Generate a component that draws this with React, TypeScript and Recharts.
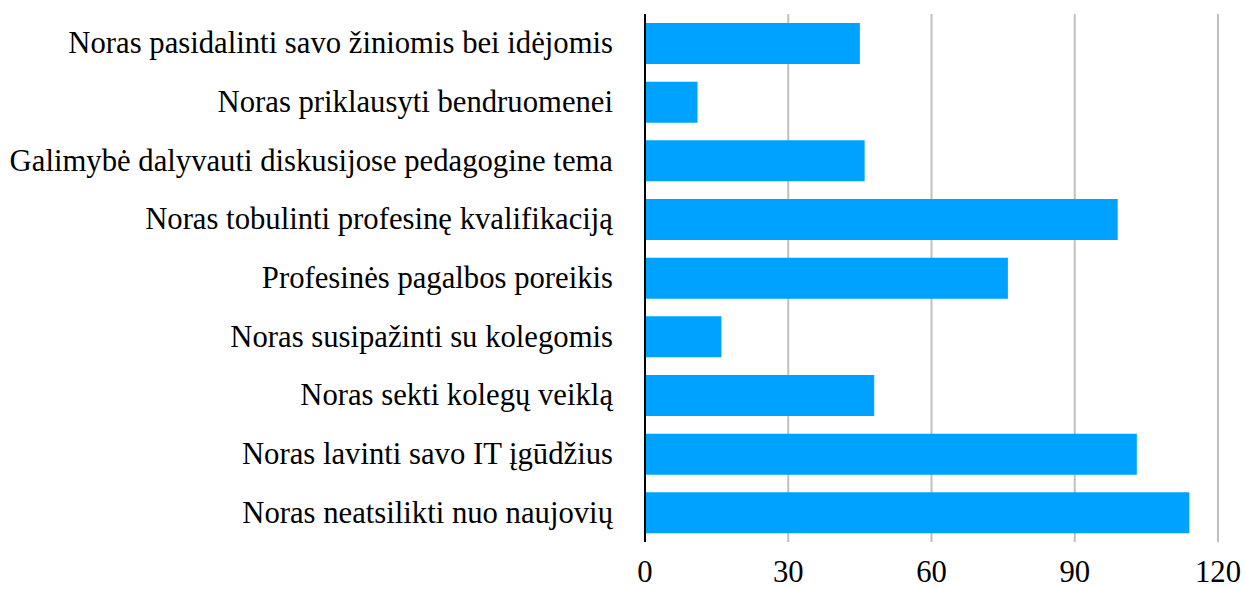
import React from "react";
import { BarChart, Bar, XAxis, YAxis, CartesianGrid } from "recharts";

const categories = [
  "Noras pasidalinti savo žiniomis bei idėjomis",
  "Noras priklausyti bendruomenei",
  "Galimybė dalyvauti diskusijose pedagogine tema",
  "Noras tobulinti profesinę kvalifikaciją",
  "Profesinės pagalbos poreikis",
  "Noras susipažinti su kolegomis",
  "Noras sekti kolegų veiklą",
  "Noras lavinti savo IT įgūdžius",
  "Noras neatsilikti nuo naujovių",
];
const values = [45, 11, 46, 99, 76, 16, 48, 103, 114];
const xTicks = [0, 30, 60, 90, 120];

const data = categories.map((name, i) => ({ name, value: values[i] }));

const FONT = "'Liberation Serif', 'Times New Roman', serif";

const YTick = (props: any) => {
  const { x, y, payload } = props;
  return (
    <text x={x} y={y} dy={10} textAnchor="end" fill="#000" fontFamily={FONT} fontSize={30.7}>
      {payload.value}
    </text>
  );
};

const XTick = (props: any) => {
  const { x, y, payload } = props;
  return (
    <text x={x} y={y} dy={32} textAnchor="middle" fill="#000" fontFamily={FONT} fontSize={30.7}>
      {payload.value}
    </text>
  );
};

export default function App() {
  return (
    <div style={{ position: "absolute", left: 0, top: 0, background: "#fff" }}>
      <BarChart
        width={1246}
        height={589}
        data={data}
        layout="vertical"
        margin={{ top: 14, right: 28, bottom: 0, left: 0 }}
      >
        <CartesianGrid horizontal={false} vertical={true} stroke="#BFBFBF" strokeWidth={2} />
        <XAxis
          type="number"
          domain={[0, 120]}
          ticks={xTicks}
          axisLine={false}
          tickLine={false}
          tick={<XTick />}
          height={47}
          interval={0}
        />
        <YAxis
          type="category"
          dataKey="name"
          width={645}
          axisLine={{ stroke: "#000", strokeWidth: 2 }}
          tickLine={false}
          tick={<YTick />}
          tickMargin={26}
          interval={0}
        />
        <Bar dataKey="value" fill="#00A2FF" barSize={41} isAnimationActive={false} />
      </BarChart>
    </div>
  );
}
